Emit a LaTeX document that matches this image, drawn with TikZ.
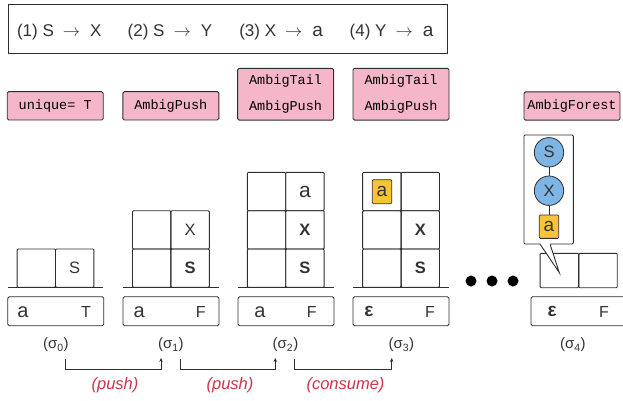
\documentclass[tikz,border=0pt]{standalone}
\usepackage{fontspec}
\setmainfont{Liberation Sans}
\setmonofont{Liberation Mono}
\usetikzlibrary{arrows.meta}
\definecolor{ink}{HTML}{2E2E2E}
\definecolor{txt}{HTML}{333333}
\definecolor{tagpink}{HTML}{F4B6C8}
\definecolor{tokyellow}{HTML}{F9C337}
\definecolor{treeblue}{HTML}{7FB5E4}
\definecolor{stepred}{HTML}{CC3348}
% terminal symbol, set larger than the surrounding letters
\newcommand\termsym[1][21]{{\fontsize{#1}{#1}\selectfont a}}
\newcommand\ruleto{\hspace{9pt}$\rightarrow$\hspace{10pt}}
\tikzset{
  x=1pt, y=-1pt,
  every node/.style={text=txt, font=\fontsize{16.5}{18}\selectfont},
  tag/.style={draw=ink, fill=tagpink, line width=0.9pt, rounded corners=1.5pt,
    minimum width=96pt, inner sep=0pt, align=center,
    font=\ttfamily\fontsize{13.5}{26.6}\selectfont, text=black},
  cell/.style={draw=ink, line width=0.9pt, rounded corners=1pt, inner sep=0pt,
    minimum width=38.4pt, minimum height=38.3pt},
  inbox/.style={draw=ink, line width=0.9pt, rounded corners=1.5pt, inner sep=0pt,
    minimum width=96pt, minimum height=29pt},
  floor/.style={draw=ink, line width=0.9pt},
  tok/.style={draw=ink, fill=tokyellow, line width=0.8pt, rounded corners=1pt,
    inner sep=0pt, minimum width=19.4pt, minimum height=24pt},
  tree/.style={circle, draw=ink, fill=treeblue, line width=0.8pt, inner sep=0pt,
    minimum size=29.4pt},
  dot/.style={circle, fill=black, inner sep=0pt, minimum size=11pt},
  brk/.style={draw=ink, line width=0.9pt, -{Stealth[length=4pt,width=3.5pt]}},
  steplbl/.style={text=stepred, font=\itshape\fontsize{16.5}{18}\selectfont},
  big/.style={font=\bfseries\fontsize{16.5}{18}\selectfont},
  eps/.style={font=\bfseries\fontsize{19}{19}\selectfont},
  rule/.style={anchor=base west, font=\fontsize{17}{19}\selectfont},
  cfg/.style={font=\fontsize{15}{17}\selectfont},
  flag/.style={font=\fontsize{16}{18}\selectfont},
}
\begin{document}
\begin{tikzpicture}
\path[use as bounding box, clip] (0,0) rectangle (623,400);

% grammar rules
\node[draw=ink, line width=0.9pt, minimum width=439pt, minimum height=49pt, inner sep=0pt]
  (rules) at (227.5,28.5) {};
\node[rule] (r1) at (13.5,36) {(1) S\ruleto X};
\node[rule] (r2) at (124.2,36) {(2) S\ruleto Y};
\node[rule] (r3) at (235.8,36) {(3) X\ruleto\termsym[19]};
\node[rule] (r4) at (346.2,36) {(4) Y\ruleto\termsym[19]};

% flags attached to each configuration
\node[tag, minimum height=28.3pt] (f0) at (55.2,105.8) {unique= T};
\node[tag, minimum height=28.3pt] (f1) at (170.8,105.8) {AmbigPush};
\node[tag, minimum height=51.7pt] (f2) at (285.6,94.2) {AmbigTail\\AmbigPush};
\node[tag, minimum height=51.7pt] (f3) at (401,94.2) {AmbigTail\\AmbigPush};
\node[tag, minimum height=28.3pt] (f4) at (572,106) {AmbigForest};

% sigma 0
\node[cell] (c0a) at (36.3,268.15) {};
\node[cell] (c0b) at (74.7,268.15) {S};
\draw[floor] (7.7,287.3) -- (103.3,287.3);
\node[inbox] (i0) at (55.7,311.2) {};
\node (i0l) at (23,311.8) {\termsym[20]};
\node[flag] (i0r) at (86,311.8) {T};

% sigma 1
\node[cell] (c1a) at (151.7,229.85) {};
\node[cell] (c1b) at (190.1,229.85) {X};
\node[cell] (c1c) at (151.7,268.15) {};
\node[cell, big] (c1d) at (190.1,268.15) {S};
\draw[floor] (123.3,287.3) -- (219,287.3);
\node[inbox] (i1) at (171,311.2) {};
\node (i1l) at (139.3,311.8) {\termsym[20]};
\node[flag] (i1r) at (200.7,311.8) {F};

% sigma 2
\node[cell] (c2a) at (266.5,191.55) {};
\node[cell] (c2b) at (304.9,191.55) {\termsym};
\node[cell] (c2c) at (266.5,229.85) {};
\node[cell, big] (c2d) at (304.9,229.85) {X};
\node[cell] (c2e) at (266.5,268.15) {};
\node[cell, big] (c2f) at (304.9,268.15) {S};
\draw[floor] (238.3,287.3) -- (334,287.3);
\node[inbox] (i2) at (286,311.2) {};
\node (i2l) at (260,311.8) {\termsym[20]};
\node[flag] (i2r) at (311.7,311.8) {F};

% sigma 3
\node[cell] (c3a) at (381.85,191.55) {};
\node[cell] (c3b) at (420.25,191.55) {};
\node[cell] (c3c) at (381.85,229.85) {};
\node[cell, big] (c3d) at (420.25,229.85) {X};
\node[cell] (c3e) at (381.85,268.15) {};
\node[cell, big] (c3f) at (420.25,268.15) {S};
\node[tok] (t3) at (382,191.7) {\termsym[19]};
\draw[floor] (353.3,287.3) -- (449,287.3);
\node[inbox] (i3) at (401,311.2) {};
\node[eps] (i3l) at (369,311.5) {ε};
\node[flag] (i3r) at (430,311.8) {F};

% ellipsis
\node[dot] (d1) at (471,281) {};
\node[dot] (d2) at (492,281) {};
\node[dot] (d3) at (513,281) {};

% sigma 4
\node[cell, minimum height=34.4pt] (c4a) at (559.35,270.5) {};
\node[cell, minimum height=34.4pt] (c4b) at (598,270.5) {};
\node[inbox] (i4) at (579,311.2) {};
\node[eps] (i4l) at (552,311.5) {ε};
\node[flag] (i4r) at (604,311.8) {F};

% forest callout pointing into the cell
\draw[ink, fill=white, line width=0.9pt, rounded corners=1pt]
  (524,135) -- (573.3,135) -- (573.3,244) -- (550,244)
  [sharp corners] -- (559.3,272.7) -- (540,244) [rounded corners=1pt]
  -- (524,244) -- cycle;
\node[tree] (ts) at (549,152.3) {S};
\node[tree] (tx) at (549,190.7) {X};
\node[tok, minimum height=23.3pt] (ta) at (549,226.7) {\termsym[19]};
\draw[ink, line width=0.8pt] (ts) -- (tx);
\draw[ink, line width=0.8pt] (tx) -- (ta);

% configuration labels
\node[cfg] (l0) at (55.8,345) {(σ\textsubscript{0})};
\node[cfg] (l1) at (170.8,345) {(σ\textsubscript{1})};
\node[cfg] (l2) at (285.5,345) {(σ\textsubscript{2})};
\node[cfg] (l3) at (401.3,345) {(σ\textsubscript{3})};
\node[cfg] (l4) at (572.8,345) {(σ\textsubscript{4})};

% transitions
\coordinate (k0) at (65,359);
\coordinate (k1) at (161,358);
\coordinate (k2) at (180,359);
\coordinate (k3) at (275.3,358);
\coordinate (k4) at (294.3,359);
\coordinate (k5) at (391.7,358);
\draw[brk] (k0) -- ++(0,10) -| (k1);
\draw[brk] (k2) -- ++(0,10) -| (k3);
\draw[brk] (k4) -- ++(0,10) -| (k5);
\node[steplbl] (p1) at (115,385.5) {(push)};
\node[steplbl] (p2) at (230,385.5) {(push)};
\node[steplbl] (p3) at (345.5,385.5) {(consume)};
\end{tikzpicture}
\end{document}
